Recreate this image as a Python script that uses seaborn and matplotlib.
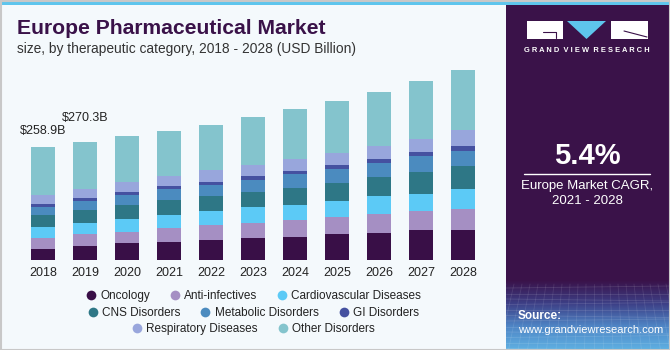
import numpy as np
import pandas as pd
import matplotlib
matplotlib.use("Agg")
import matplotlib.pyplot as plt
import seaborn as sns
from matplotlib.patches import Rectangle, Polygon
from matplotlib.lines import Line2D

# data (USD Billion)
years = ['2018', '2019', '2020', '2021', '2022', '2023', '2024', '2025', '2026', '2027', '2028']
categories = ['Oncology', 'Anti-infectives', 'Cardiovascular Diseases', 'CNS Disorders',
              'Metabolic Disorders', 'GI Disorders', 'Respiratory Diseases', 'Other Disorders']
oncology = [26.7, 33.0, 38.5, 42.4, 46.3, 51.6, 54.0, 60.6, 63.0, 69.0, 70.0]
anti_infectives = [25.1, 27.8, 27.3, 31.8, 34.8, 33.4, 38.6, 38.6, 42.4, 43.2, 47.8]
cardiovascular = [25.1, 25.6, 28.7, 29.5, 31.8, 36.4, 34.1, 36.4, 40.9, 40.2, 46.3]
cns = [26.7, 29.3, 31.8, 34.1, 34.8, 35.6, 38.6, 40.9, 44.0, 49.3, 51.6]
metabolic = [19.0, 20.4, 22.7, 25.7, 24.3, 25.7, 31.0, 33.3, 31.8, 36.4, 34.8]
gi = [6.9, 6.9, 6.9, 6.9, 7.6, 9.8, 8.4, 7.6, 9.1, 9.8, 9.8]
respiratory = [20.5, 20.4, 23.4, 22.7, 26.5, 24.3, 26.5, 27.2, 31.0, 28.7, 37.1]
other = [109.8, 106.9, 104.0, 102.4, 103.9, 111.4, 113.7, 119.0, 122.8, 132.7, 138.0]
labels = {'2018': '$258.9B', '2019': '$270.3B'}

colors = ['#390f47', '#a58fc3', '#5ccaf6', '#2e7786', '#4b8bbf', '#4551a0', '#98a6dc', '#84c4cd']

series = [oncology, anti_infectives, cardiovascular, cns, metabolic, gi, respiratory, other]
df = pd.DataFrame(dict(zip(categories, series)), index=years)
cum = df.cumsum(axis=1)

sns.set_style("white")
plt.rcParams['font.family'] = ['Liberation Sans', 'DejaVu Sans']

W, H = 670, 350
fig = plt.figure(figsize=(6.7, 3.5), dpi=100)
fig.patch.set_facecolor('#f4f9fc')

# background / decorations in pixel coords
bg = fig.add_axes([0, 0, 1, 1], zorder=0)
bg.set_xlim(0, W)
bg.set_ylim(H, 0)
bg.axis('off')
bg.add_patch(Rectangle((0, 0), W, H, facecolor='#f4f9fc', edgecolor='none'))
bg.add_patch(Rectangle((506, 0), W - 506, H, facecolor='#3a1249', edgecolor='none'))
# gradient at the bottom of the side panel
grad = np.linspace(0, 1, 100).reshape(-1, 1)
cmap = matplotlib.colors.LinearSegmentedColormap.from_list('g', ['#3a1249', '#3d3f86', '#4f86c6', '#5fb0e2'])
bg.imshow(grad, extent=(506, W, H, 280), cmap=cmap, aspect='auto', zorder=1)
# faint mesh lines over the gradient
for k in range(12):
    yy = 288 + k * 5.5
    bg.plot([506, W], [yy, yy + (k % 3 - 1) * 2], color='white', alpha=0.12, lw=0.6, zorder=2)
for k in range(22):
    xx = 506 + k * 8
    bg.plot([xx, xx + (k - 11) * 1.5], [284, H], color='white', alpha=0.10, lw=0.6, zorder=2)
bg.set_xlim(0, W)
bg.set_ylim(H, 0)
bg.add_patch(Rectangle((0, 0), W, 5, facecolor='#5ec5ed', edgecolor='none', zorder=3))
bg.add_patch(Rectangle((0.5, 0.5), W - 1, H - 1, facecolor='none', edgecolor='#c8c8c8', lw=1.5, zorder=4))

# logo
bg.add_patch(Rectangle((527, 21), 36, 18, facecolor='white', edgecolor='none', zorder=3))
bg.add_patch(Polygon([[567, 21], [606, 21], [586.5, 39]], closed=True, facecolor='#5ec5ed', edgecolor='none', zorder=3))
bg.add_patch(Rectangle((611, 21), 37, 18, facecolor='white', edgecolor='none', zorder=3))
bg.plot([543, 556, 556], [32, 32, 38], color='#3a1249', lw=0.8, zorder=4)
bg.plot([624, 647], [31, 37], color='#3a1249', lw=0.8, zorder=4)
bg.text(587, 51, 'G R A N D  V I E W  R E S E A R C H', color='white', fontsize=5.4,
        fontweight='bold', ha='center', va='center', zorder=4)

bg.text(587, 156, '5.4%', color='white', fontsize=21, fontweight='bold', ha='center', va='center')
bg.plot([524, 650], [173.5, 173.5], color='white', lw=1)
bg.text(587, 186, 'Europe Market CAGR,', color='white', fontsize=9.5, ha='center', va='center')
bg.text(587, 201, '2021 - 2028', color='white', fontsize=9.5, ha='center', va='center')
bg.text(518, 316, 'Source:', color='white', fontsize=8.5, fontweight='bold', ha='left', va='center', zorder=4)
bg.text(518, 330, 'www.grandviewresearch.com', color='white', fontsize=8, ha='left', va='center', zorder=4)

# titles
bg.text(17, 28, 'Europe Pharmaceutical Market', color='#3a1249', fontsize=15.2,
        fontweight='heavy', ha='left', va='center')
bg.text(17, 49, 'size, by therapeutic category, 2018 - 2028 (USD Billion)', color='#333333',
        fontsize=9.9, ha='left', va='center')

# main chart axes: baseline at y=260.3 px, 0.4375 px per billion
base = H - 260.3
ymax = 450
ax = fig.add_axes([0.8 / W, base / H, 504.2 / W, ymax * 0.4375 / H], zorder=2)
ax.set_facecolor('none')

for i in range(len(categories) - 1, -1, -1):
    sns.barplot(x=years, y=cum[categories[i]].values, color=colors[i], width=0.58,
                saturation=1, errorbar=None, ax=ax, edgecolor='none', linewidth=0)

ax.set_xlim(-1, 11)
ax.set_ylim(0, ymax)
ax.set_yticks([])
ax.set_xlabel('')
ax.set_ylabel('')
sns.despine(ax=ax, left=True, bottom=True)
ax.tick_params(axis='x', length=0, pad=4.5, labelsize=9, labelcolor='#222222')

offs = {'2018': 11, '2019': 17}
for k, txt in labels.items():
    idx = years.index(k)
    ax.annotate(txt, (idx, cum.loc[k].iloc[-1]), xytext=(0, offs[k]), textcoords='offset points',
                ha='center', va='center', fontsize=9, color='#222222')

# legend rows, each centred on its own
rows = [[0, 1, 2], [3, 4, 5], [6, 7]]
row_y = [296, 313, 329]
for r, yy in zip(rows, row_y):
    handles = [Line2D([], [], marker='o', ls='', markersize=7, markerfacecolor=colors[i],
                      markeredgecolor='none', label=categories[i]) for i in r]
    leg = fig.legend(handles=handles, loc='center', bbox_to_anchor=(253 / W, 1 - yy / H),
                     ncol=len(r), frameon=False, fontsize=8.5, handletextpad=0.3,
                     columnspacing=1.6, handlelength=1.0, borderpad=0)
    for t in leg.get_texts():
        t.set_color('#222222')

fig.savefig('out.png', dpi=100, facecolor=fig.get_facecolor())
